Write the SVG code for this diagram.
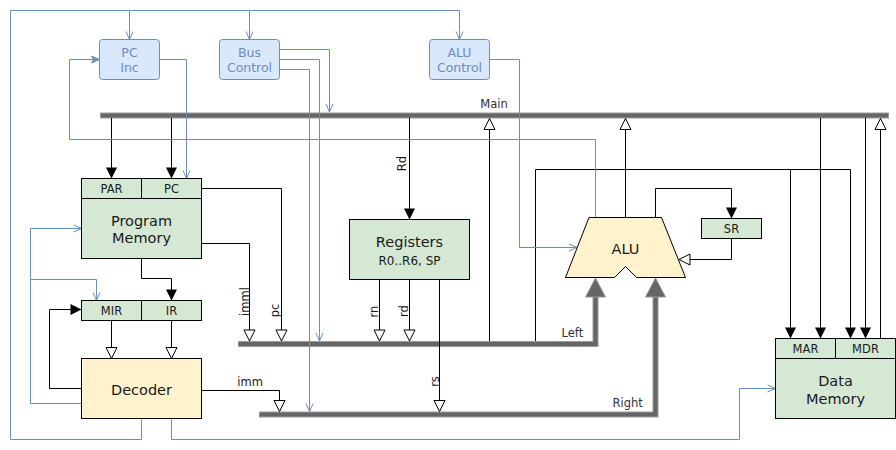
<svg xmlns="http://www.w3.org/2000/svg" width="896" height="450" viewBox="0 0 896 450">
<style>
text{font-family:"DejaVu Sans","Liberation Sans",sans-serif;fill:#1a1a1a}
.big{font-size:14.5px;text-anchor:middle}
.sm{font-size:11.5px;text-anchor:middle}
.reg{font-size:12px;text-anchor:middle}
.ctl{font-size:12.5px;text-anchor:middle;fill:#6c8ebf}
.lbl{font-size:11.5px;fill:#333}
.green{fill:#d5e8d4;stroke:#000;stroke-width:1}
.yellow{fill:#fff2cc;stroke:#000;stroke-width:1}
.blue{fill:#dae8fc;stroke:#6c8ebf;stroke-width:1}
.bk{fill:none;stroke:#000;stroke-width:1}
.bl{fill:none;stroke:#6c8ebf;stroke-width:1}
.busO{fill:none;stroke:#9a9a9a;stroke-width:6}
.busI{fill:none;stroke:#666;stroke-width:4}
.head{fill:#666;stroke:#9a9a9a;stroke-width:1}
</style>
<defs>
<marker id="fa" viewBox="0 0 12 12" refX="11.5" refY="6" markerWidth="12" markerHeight="12" orient="auto" markerUnits="userSpaceOnUse"><path d="M0.5,0.5 L11.5,6 L0.5,11.5 Z" fill="#000"/></marker>
<marker id="oa" viewBox="0 0 13 13" refX="12" refY="6.5" markerWidth="13" markerHeight="13" orient="auto" markerUnits="userSpaceOnUse"><path d="M1,1 L12,6.5 L1,12 Z" fill="#fff" stroke="#000" stroke-width="1"/></marker>
<marker id="bo" viewBox="0 0 10 10" refX="9" refY="5" markerWidth="10" markerHeight="10" orient="auto" markerUnits="userSpaceOnUse"><path d="M1,1.5 L9,5 L1,8.5" fill="none" stroke="#6c8ebf" stroke-width="1"/></marker>
<marker id="bf" viewBox="0 0 10 10" refX="9" refY="5" markerWidth="10" markerHeight="10" orient="auto" markerUnits="userSpaceOnUse"><path d="M1,1.5 L9,5 L1,8.5 L3,5 Z" fill="#6c8ebf" stroke="#6c8ebf" stroke-width="1"/></marker>
</defs>

<g id="buses">
<line class="busO" x1="100" y1="115.5" x2="889" y2="115.5"/>
<line class="busI" x1="101" y1="115.5" x2="888" y2="115.5"/>
<polyline class="busO" points="238,344 595.5,344 595.5,296"/>
<polyline class="busI" points="239,344 595.5,344 595.5,296"/>
<polygon class="head" points="585.5,297 605.5,297 595.5,278"/>
<polyline class="busO" points="259,414.5 655.5,414.5 655.5,296"/>
<polyline class="busI" points="260,414.5 655.5,414.5 655.5,296"/>
<polygon class="head" points="645.5,297 665.5,297 655.5,278"/>
<text class="lbl" x="494" y="108.3" text-anchor="middle">Main</text>
<text class="lbl" x="561.5" y="336.5">Left</text>
<text class="lbl" x="612.5" y="406.5">Right</text>
</g>

<g id="connectors">
<!-- black -->
<line class="bk" x1="111.5" y1="118" x2="111.5" y2="178.5" marker-end="url(#fa)"/>
<line class="bk" x1="171.5" y1="118" x2="171.5" y2="178.5" marker-end="url(#fa)"/>
<polyline class="bk" points="201.5,188.5 281.5,188.5 281.5,341" marker-end="url(#oa)"/>
<polyline class="bk" points="201.5,243.5 249.5,243.5 249.5,341" marker-end="url(#oa)"/>
<polyline class="bk" points="141.5,258.5 141.5,278.5 171.5,278.5 171.5,300.5" marker-end="url(#fa)"/>
<line class="bk" x1="111.5" y1="320.5" x2="111.5" y2="358.5" marker-end="url(#oa)"/>
<line class="bk" x1="171.5" y1="320.5" x2="171.5" y2="358.5" marker-end="url(#oa)"/>
<polyline class="bk" points="81.5,388.5 49.5,388.5 49.5,309.5 81.5,309.5" marker-end="url(#fa)"/>
<polyline class="bk" points="201.5,390.5 279.5,390.5 279.5,411.5" marker-end="url(#oa)"/>
<line class="bk" x1="409.5" y1="118" x2="409.5" y2="219.5" marker-end="url(#fa)"/>
<line class="bk" x1="379.5" y1="279.5" x2="379.5" y2="341" marker-end="url(#oa)"/>
<line class="bk" x1="409.5" y1="279.5" x2="409.5" y2="341" marker-end="url(#oa)"/>
<line class="bk" x1="439.5" y1="279.5" x2="439.5" y2="411.5" marker-end="url(#oa)"/>
<line class="bk" x1="489.5" y1="341" x2="489.5" y2="118.5" marker-end="url(#oa)"/>
<polyline class="bk" points="535.5,341 535.5,169.5 850.5,169.5 850.5,338.5" marker-end="url(#fa)"/>
<line class="bk" x1="790.5" y1="169.5" x2="790.5" y2="338.5" marker-end="url(#fa)"/>
<line class="bk" x1="820.5" y1="118" x2="820.5" y2="338.5" marker-end="url(#fa)"/>
<line class="bk" x1="865.5" y1="118" x2="865.5" y2="338.5" marker-end="url(#fa)"/>
<line class="bk" x1="880.5" y1="338.5" x2="880.5" y2="118.5" marker-end="url(#oa)"/>
<line class="bk" x1="625.5" y1="217.5" x2="625.5" y2="118.5" marker-end="url(#oa)"/>
<polyline class="bk" points="655.5,217.5 655.5,188.5 731.5,188.5 731.5,218.5" marker-end="url(#fa)"/>
<polyline class="bk" points="731.5,238.5 731.5,259.5 679,259.5" marker-end="url(#oa)"/>
<!-- blue -->
<polyline class="bl" points="141.5,418.5 141.5,439.5 10.5,439.5 10.5,10.5 459.5,10.5 459.5,39.5" marker-end="url(#bo)"/>
<line class="bl" x1="129.5" y1="10.5" x2="129.5" y2="39.5" marker-end="url(#bo)"/>
<line class="bl" x1="249.5" y1="10.5" x2="249.5" y2="39.5" marker-end="url(#bo)"/>
<polyline class="bl" points="171.5,418.5 171.5,439.5 739.5,439.5 739.5,388.5 775.5,388.5" marker-end="url(#bo)"/>
<polyline class="bl" points="81.5,403.5 30.5,403.5 30.5,228.5 81.5,228.5" marker-end="url(#bo)"/>
<polyline class="bl" points="30.5,279.5 96.5,279.5 96.5,300.5" marker-end="url(#bo)"/>
<polyline class="bl" points="595.5,217.5 595.5,139.5 69.5,139.5 69.5,59.5 99.5,59.5" marker-end="url(#bf)"/>
<polyline class="bl" points="159.5,59.5 186.5,59.5 186.5,178.5" marker-end="url(#bo)"/>
<polyline class="bl" points="279.5,49.5 329.5,49.5 329.5,112" marker-end="url(#bo)"/>
<polyline class="bl" points="279.5,59.5 319.5,59.5 319.5,341" marker-end="url(#bo)"/>
<polyline class="bl" points="279.5,69.5 309.5,69.5 309.5,411.5" marker-end="url(#bo)"/>
<polyline class="bl" points="489.5,59.5 519.5,59.5 519.5,247.5 577,247.5" marker-end="url(#bo)"/>
<!-- edge labels -->
<text class="lbl" transform="translate(248.5,301.5) rotate(-90)" text-anchor="middle" style="fill:#1a1a1a">imml</text>
<text class="lbl" transform="translate(279,310.5) rotate(-90)" text-anchor="middle" style="fill:#1a1a1a">pc</text>
<text class="lbl" x="237.3" y="385.5" style="fill:#1a1a1a">imm</text>
<text class="lbl" transform="translate(405.5,163.5) rotate(-90)" text-anchor="middle" style="fill:#1a1a1a">Rd</text>
<text class="lbl" transform="translate(378,311.5) rotate(-90)" text-anchor="middle" style="fill:#1a1a1a">rn</text>
<text class="lbl" transform="translate(408,311) rotate(-90)" text-anchor="middle" style="fill:#1a1a1a">rd</text>
<text class="lbl" transform="translate(438.5,381.5) rotate(-90)" text-anchor="middle" style="fill:#1a1a1a">rs</text>
</g>

<g id="pc-inc">
<rect class="blue" x="99.5" y="39.5" width="60" height="40" rx="3"/>
<text class="ctl" x="129.5" y="57.3">PC</text>
<text class="ctl" x="129.5" y="71.5">Inc</text>
</g>
<g id="bus-control">
<rect class="blue" x="219.5" y="39.5" width="60" height="40" rx="3"/>
<text class="ctl" x="249.5" y="57.3">Bus</text>
<text class="ctl" x="249.5" y="71.8">Control</text>
</g>
<g id="alu-control">
<rect class="blue" x="429.5" y="39.5" width="60" height="40" rx="3"/>
<text class="ctl" x="459.5" y="57.3">ALU</text>
<text class="ctl" x="459.5" y="71.8">Control</text>
</g>

<g id="program-memory">
<rect class="green" x="81.5" y="198.5" width="120" height="60"/>
<rect class="green" x="81.5" y="178.5" width="60" height="20"/>
<rect class="green" x="141.5" y="178.5" width="60" height="20"/>
<text class="sm" x="111.5" y="192.5">PAR</text>
<text class="sm" x="171.5" y="192.5">PC</text>
<text class="big" x="141.5" y="225.5">Program</text>
<text class="big" x="141.5" y="243.3">Memory</text>
</g>

<g id="mir-ir">
<rect class="green" x="81.5" y="300.5" width="60" height="20"/>
<rect class="green" x="141.5" y="300.5" width="60" height="20"/>
<text class="sm" x="111.5" y="314.5">MIR</text>
<text class="sm" x="171.5" y="314.5">IR</text>
</g>

<g id="decoder">
<rect class="yellow" x="81.5" y="358.5" width="120" height="60"/>
<text class="big" x="141.5" y="395">Decoder</text>
</g>

<g id="registers">
<rect class="green" x="349.5" y="219.5" width="120" height="60"/>
<text class="big" x="409.5" y="246.6">Registers</text>
<text class="reg" x="409.5" y="265.3">R0..R6, SP</text>
</g>

<g id="alu">
<polygon class="yellow" points="589,217.5 661.5,217.5 685.5,277.5 636.5,277.5 625.5,266.5 614.5,277.5 565.5,277.5"/>
<text class="big" x="625.5" y="254">ALU</text>
</g>

<g id="sr">
<rect class="green" x="701.5" y="218.5" width="60" height="20"/>
<text class="sm" x="731.5" y="232.5">SR</text>
</g>

<g id="data-memory">
<rect class="green" x="775.5" y="358.5" width="120" height="60"/>
<rect class="green" x="775.5" y="338.5" width="60" height="20"/>
<rect class="green" x="835.5" y="338.5" width="60" height="20"/>
<text class="sm" x="805.5" y="352.5">MAR</text>
<text class="sm" x="865.5" y="352.5">MDR</text>
<text class="big" x="835.5" y="386">Data</text>
<text class="big" x="835.5" y="403.5">Memory</text>
</g>
</svg>
